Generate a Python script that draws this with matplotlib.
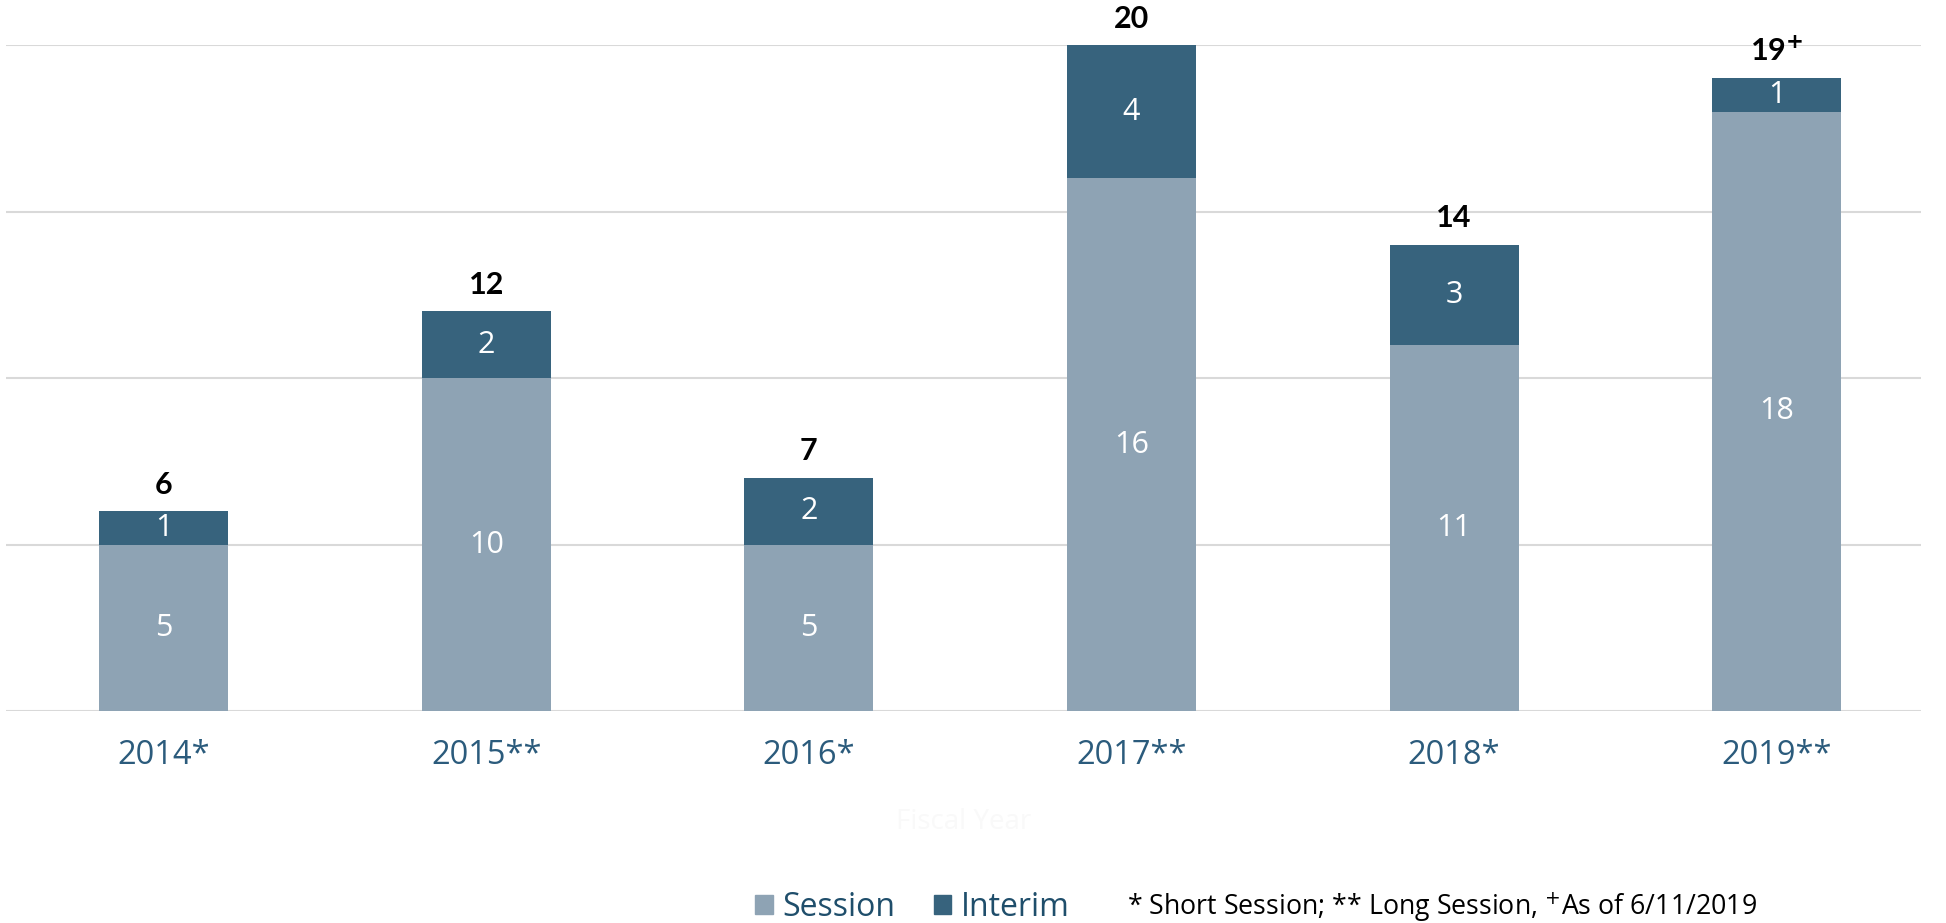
import matplotlib
matplotlib.use("Agg")
import matplotlib.pyplot as plt
from matplotlib.patches import Patch

years = ["2014*", "2015**", "2016*", "2017**", "2018*", "2019**"]
session = [5, 10, 5, 16, 11, 18]
interim = [1, 2, 2, 4, 3, 1]
totals = ["6", "12", "7", "20", "14", "19$^{\\mathbf{+}}$"]

c_session = "#8EA3B4"
c_interim = "#37637D"
c_tick = "#2B5B7C"

fig = plt.figure(figsize=(19.46, 9.23), dpi=100)
ax = fig.add_axes([0.003, 0.2297, 0.984, 0.7215])

x = list(range(len(years)))
w = 0.4
ax.bar(x, session, width=w, color=c_session, zorder=2)
ax.bar(x, interim, width=w, bottom=session, color=c_interim, zorder=2)

for i in x:
    ax.text(i, session[i] / 2, str(session[i]), ha="center", va="center",
            color="white", fontsize=22, family="Open Sans", zorder=3)
    ax.text(i, session[i] + interim[i] / 2, str(interim[i]), ha="center", va="center",
            color="white", fontsize=22, family="Open Sans", zorder=3)
    ax.annotate(totals[i], (i, session[i] + interim[i]), xytext=(0, 9),
                textcoords="offset points", ha="center", va="bottom",
                fontsize=22, fontweight="bold", family="Lato", color="black",
                annotation_clip=False)

ax.set_ylim(0, 20)
ax.set_xlim(-0.489, 5.446)
ax.set_yticks([0, 5, 10, 15, 20])
ax.yaxis.grid(True, color="#D9D9D9", linewidth=1.5)
ax.set_axisbelow(True)
ax.tick_params(axis="y", left=False, labelleft=False)
ax.set_xticks(x)
ax.set_xticklabels(years, family="Open Sans", fontsize=23.5, color=c_tick)
ax.tick_params(axis="x", length=0, pad=20)
for s in ax.spines.values():
    s.set_visible(False)

ax.set_xlabel("Fiscal Year", color="#F9F9F9", fontsize=20, family="Open Sans", labelpad=26)

handles = [Patch(color=c_session, label="Session"), Patch(color=c_interim, label="Interim")]
leg = fig.legend(handles=handles, loc="center", bbox_to_anchor=(0.469, 0.017),
                 ncol=2, frameon=False, prop={"family": "Open Sans", "size": 23},
                 handlelength=0.55, handleheight=0.55, handletextpad=0.3, columnspacing=1.2,
                 labelcolor=["#1F4E6B", "#1F4E6B"], borderpad=0)

fig.text(0.579, 0.017, "* Short Session; ** Long Session, $^{+}$As of 6/11/2019",
         ha="left", va="center", fontsize=19.3, family="Open Sans", color="black")

fig.savefig("out.png", dpi=100, facecolor="white")
